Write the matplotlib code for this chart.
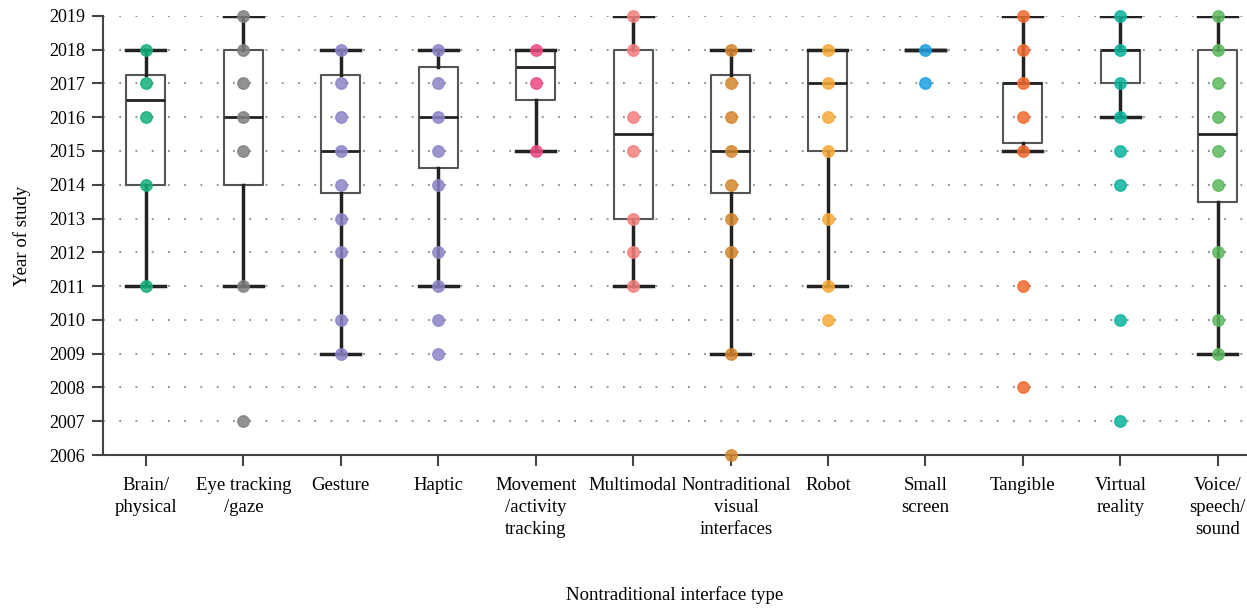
import matplotlib
matplotlib.use("Agg")
import matplotlib.pyplot as plt
from matplotlib.transforms import ScaledTranslation

plt.rcParams['font.family'] = ['Liberation Serif', 'DejaVu Serif']

categories = ["Brain/\nphysical", "Eye tracking\n/gaze", "Gesture", "Haptic",
              "Movement\n/activity\ntracking", "Multimodal",
              "Nontraditional\nvisual\ninterfaces", "Robot", "Small\nscreen",
              "Tangible", "Virtual\nreality", "Voice/\nspeech/\nsound"]

# observed study years per interface type
years = [
    [2018, 2017, 2016, 2014, 2011],
    [2019, 2018, 2017, 2016, 2015, 2011, 2007],
    [2018, 2017, 2016, 2015, 2014, 2013, 2012, 2010, 2009],
    [2018, 2017, 2016, 2015, 2014, 2012, 2011, 2010, 2009],
    [2018, 2017, 2015],
    [2019, 2018, 2016, 2015, 2013, 2012, 2011],
    [2018, 2017, 2016, 2015, 2014, 2013, 2012, 2009, 2006],
    [2018, 2017, 2016, 2015, 2013, 2011, 2010],
    [2018, 2017],
    [2019, 2018, 2017, 2016, 2015, 2011, 2008],
    [2019, 2018, 2017, 2016, 2015, 2014, 2010, 2007],
    [2019, 2018, 2017, 2016, 2015, 2014, 2012, 2010, 2009],
]

# box summary per interface type
q1 = [2014, 2014, 2013.75, 2014.5, 2016.5, 2013, 2013.75, 2015, 2018, 2015.25, 2017, 2013.5]
med = [2016.5, 2016, 2015, 2016, 2017.5, 2015.5, 2015, 2017, 2018, 2017, 2018, 2015.5]
q3 = [2017.25, 2018, 2017.25, 2017.5, 2018, 2018, 2017.25, 2018, 2018, 2017, 2018, 2018]
wlo = [2011, 2011, 2009, 2011, 2015, 2011, 2009, 2011, 2018, 2015, 2016, 2009]
whi = [2018, 2019, 2018, 2018, 2018, 2019, 2018, 2018, 2018, 2019, 2019, 2019]

colors = ["#13b07c", "#7f7f7f", "#8a85c6", "#8a85c6", "#ec4a80", "#f47e7b",
          "#d4862c", "#f8aa38", "#1d9fe0", "#f2692d", "#0bb29c", "#5cb85c"]

fig = plt.figure(figsize=(12.47, 6.10), dpi=100)
ax = fig.add_axes([0.0826, 0.254, 0.9174, 0.72])

stats = [dict(q1=a, med=m, q3=b, whislo=lo, whishi=hi, fliers=[])
         for a, m, b, lo, hi in zip(q1, med, q3, wlo, whi)]
ax.bxp(stats, positions=range(len(categories)), widths=0.4, capwidths=0.4,
       boxprops=dict(color="#555555", linewidth=1.5),
       medianprops=dict(color="#222222", linewidth=2),
       whiskerprops=dict(color="#222222", linewidth=2.5),
       capprops=dict(color="#222222", linewidth=2.5),
       showfliers=False, zorder=2)

for i, (ys, c) in enumerate(zip(years, colors)):
    ax.scatter([i] * len(ys), ys, s=68, color=c, alpha=0.85,
               edgecolors=c, linewidths=1, zorder=3, clip_on=False)

ax.set_xlim(-0.44, 11.3)
ax.set_ylim(2006, 2019)
ax.set_yticks(range(2006, 2020))
ax.set_xticks(range(len(categories)))
ax.set_xticklabels(categories, fontsize=13.5, linespacing=1.36)
ax.tick_params(axis='y', labelsize=13, direction='out', length=8, width=1.5,
               color="#444444", pad=5)
ax.tick_params(axis='x', direction='out', length=8, width=1.5, color="#444444", pad=8)

# nudge the long three-line label clear of its neighbour
lab = ax.get_xticklabels()[6]
lab.set_transform(lab.get_transform() + ScaledTranslation(6 / 100, 0, fig.dpi_scale_trans))

ax.yaxis.grid(True, linestyle=(0, (1, 8)), color="#888888", linewidth=1.3)
ax.set_axisbelow(True)
for s in ["top", "right"]:
    ax.spines[s].set_visible(False)
for s in ["left", "bottom"]:
    ax.spines[s].set_color("#444444")
    ax.spines[s].set_linewidth(1.5)

ax.set_ylabel("Year of study", fontsize=13.5)
ax.yaxis.set_label_coords(-0.063, 0.5)
ax.set_xlabel("Nontraditional interface type", fontsize=13.5)
ax.xaxis.set_label_coords(0.5, -0.298)

fig.savefig("out.png", dpi=100)
